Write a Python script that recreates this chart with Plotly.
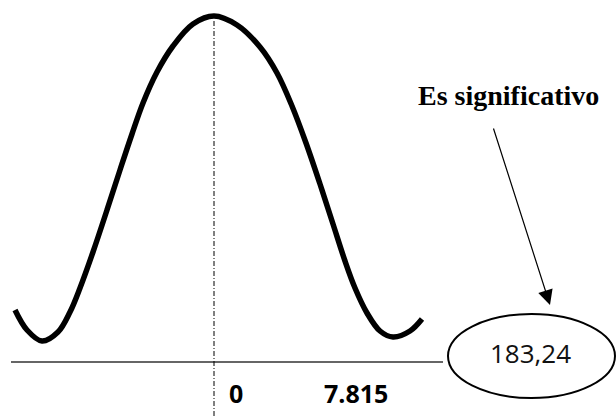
import plotly.graph_objects as go

# Curva (unidades del lienzo: x a la derecha, y hacia arriba)
curva_x = [15, 27, 42, 58, 70, 80, 93, 107, 120, 132, 143, 157, 173, 193, 214,
           237, 260, 277, 292, 306, 320, 333, 345, 355, 367, 380, 393, 410, 422]
curva_y = [106, 86, 75, 84, 104, 128, 164, 206, 246, 282, 313, 344, 370, 392, 400,
           391, 369, 343, 310, 273, 232, 192, 155, 128, 103, 85, 79, 85, 97]

etiquetas_eje = ["0", "7.815"]
pos_etiquetas = [235.5, 356]

valor_calculado = "183,24"
texto_flecha = "Es significativo"

NEGRO = "#000000"

fig = go.Figure()

# eje horizontal
fig.add_trace(go.Scatter(
    x=[11, 443], y=[54, 54], mode="lines",
    line=dict(color="#333333", width=1.5), hoverinfo="skip"
))

# linea central punteada
fig.add_trace(go.Scatter(
    x=[214, 214], y=[0, 397], mode="lines",
    line=dict(color=NEGRO, width=1, dash="5px,2px,1px,2px"), hoverinfo="skip"
))

# curva
fig.add_trace(go.Scatter(
    x=curva_x, y=curva_y, mode="lines",
    line=dict(color=NEGRO, width=5.5, shape="spline", smoothing=1),
    hoverinfo="skip"
))

for txt, xp in zip(etiquetas_eje, pos_etiquetas):
    fig.add_annotation(
        x=xp, y=23.5, text=txt, showarrow=False,
        font=dict(family="Open Sans", size=25, color=NEGRO, weight="bold"),
        xanchor="center", yanchor="middle"
    )

# ovalo con el valor
fig.add_shape(type="circle", x0=448, x1=615, y0=18, y1=102,
              line=dict(color=NEGRO, width=2), fillcolor="rgba(0,0,0,0)")
fig.add_annotation(
    x=530, y=63, text=valor_calculado, showarrow=False,
    font=dict(family="Open Sans", size=26, color="#111111"),
    xanchor="center", yanchor="middle"
)

# flecha
fig.add_annotation(
    x=550, y=111, ax=493, ay=289, axref="x", ayref="y",
    text="", showarrow=True, arrowhead=2, arrowsize=2.5, arrowwidth=1.2,
    arrowcolor=NEGRO, standoff=0
)
fig.add_annotation(
    x=508.5, y=321, text=texto_flecha, showarrow=False,
    font=dict(family="Liberation Serif", size=28, color=NEGRO, weight="bold"),
    xanchor="center", yanchor="middle"
)

fig.update_layout(
    width=616, height=416,
    margin=dict(l=0, r=0, t=0, b=0),
    paper_bgcolor="white", plot_bgcolor="white",
    showlegend=False,
    xaxis=dict(range=[0, 616], visible=False, fixedrange=True),
    yaxis=dict(range=[0, 416], visible=False, fixedrange=True),
)

fig.write_html("out.html", config={"displayModeBar": False},
               post_script="document.body.style.margin='0';")
